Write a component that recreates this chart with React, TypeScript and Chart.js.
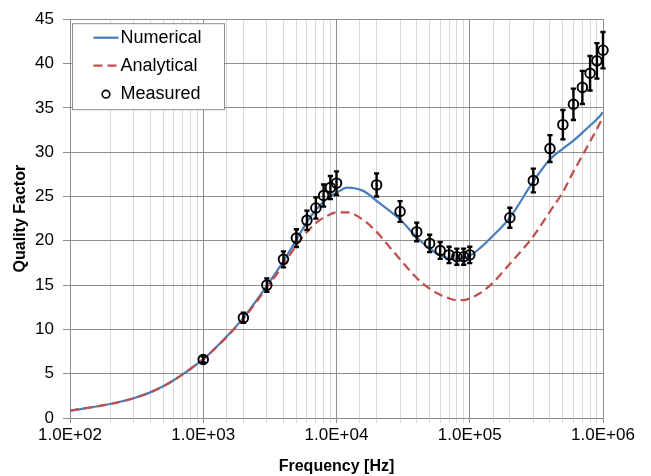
import React, { useEffect, useRef } from 'react';
import { Chart, registerables } from 'chart.js';

Chart.register(...registerables);

// Numerical (blue, solid)
const numericalFreq = [100, 200, 300, 400, 500, 600, 700, 800, 900, 1000, 1500, 2000, 3000, 4000, 5000, 6000, 7000, 8000, 9000, 10000, 12000, 16000, 20000, 30000, 40000, 50000, 60000, 70000, 80000, 90000, 100000, 120000, 150000, 200000, 300000, 400000, 500000, 600000, 700000, 800000, 900000, 1000000];
const numericalQ = [0.83, 1.58, 2.23, 2.89, 3.57, 4.26, 4.92, 5.53, 6.1, 6.62, 9.2, 11.3, 14.9, 17.7, 20.1, 22.1, 23.5, 24.4, 25.0, 25.4, 26.0, 25.6, 24.5, 22.4, 20.4, 19.1, 18.4, 18.0, 17.9, 18.1, 18.3, 19.2, 20.6, 22.6, 26.7, 29.2, 30.4, 31.3, 32.2, 33.0, 33.7, 34.5];

// Analytical (red, dashed)
const analyticalFreq = [100, 200, 300, 400, 500, 600, 700, 800, 900, 1000, 1500, 2000, 3000, 4000, 5000, 6000, 7000, 8000, 9000, 10000, 12000, 16000, 20000, 25000, 30000, 40000, 50000, 60000, 70000, 80000, 90000, 100000, 120000, 150000, 200000, 300000, 400000, 500000, 600000, 700000, 800000, 900000, 1000000];
const analyticalQ = [0.83, 1.58, 2.23, 2.89, 3.57, 4.26, 4.92, 5.53, 6.1, 6.62, 9.15, 11.2, 14.7, 17.3, 19.5, 21.0, 22.0, 22.6, 23.0, 23.2, 23.2, 22.3, 21.0, 19.3, 17.9, 15.8, 14.6, 13.9, 13.5, 13.3, 13.3, 13.5, 14.1, 15.3, 17.4, 20.5, 23.3, 25.5, 27.8, 29.6, 31.2, 32.6, 34.0];

// Measured (circles with error bars)
const measuredFreq = [1000, 2000, 3000, 4000, 5000, 6000, 7000, 8000, 9000, 10000, 20000, 30000, 40000, 50000, 60000, 70000, 80000, 90000, 100000, 200000, 300000, 400000, 500000, 600000, 700000, 800000, 900000, 1000000];
const measuredQ = [6.6, 11.3, 15.0, 17.9, 20.3, 22.3, 23.7, 25.1, 26.0, 26.5, 26.3, 23.3, 21.0, 19.7, 18.9, 18.4, 18.2, 18.2, 18.4, 22.6, 26.8, 30.4, 33.1, 35.4, 37.3, 38.9, 40.3, 41.5];
const measuredErr = [0.33, 0.57, 0.75, 0.9, 1.0, 1.1, 1.2, 1.25, 1.3, 1.33, 1.3, 1.17, 1.05, 0.98, 0.95, 0.92, 0.91, 0.91, 0.92, 1.13, 1.34, 1.52, 1.66, 1.77, 1.87, 1.95, 2.0, 2.05];

const legendLabels = ['Numerical', 'Analytical', 'Measured'];
const yTicks = { min: 0, max: 45, step: 5 };
const xRange = { min: 100, max: 1000000 };

const BLUE = '#4a7ebb';
const RED = '#c0504d';
const MAJOR = '#8e8e8e';
const MINOR = '#d9d9d9';
const FONT = "'Liberation Sans', Arial, Helvetica, sans-serif";

const isDecade = (v: number) => {
  const e = Math.log10(v);
  return Math.abs(e - Math.round(e)) < 1e-9;
};

export default function App() {
  const ref = useRef<HTMLCanvasElement>(null);

  useEffect(() => {
    document.body.style.margin = '0';
    const canvas = ref.current!;

    const errorBars = {
      id: 'errorBars',
      afterDatasetsDraw(chart: any) {
        const { ctx, scales } = chart;
        const xs = scales.x;
        const ys = scales.y;
        ctx.save();
        ctx.strokeStyle = '#000';
        ctx.lineWidth = 2.4;
        for (let i = 0; i < measuredFreq.length; i++) {
          const px = xs.getPixelForValue(measuredFreq[i]);
          const top = ys.getPixelForValue(measuredQ[i] + measuredErr[i]);
          const bot = ys.getPixelForValue(measuredQ[i] - measuredErr[i]);
          ctx.beginPath();
          ctx.moveTo(px, top);
          ctx.lineTo(px, bot);
          ctx.moveTo(px - 2.6, top);
          ctx.lineTo(px + 2.6, top);
          ctx.moveTo(px - 2.6, bot);
          ctx.lineTo(px + 2.6, bot);
          ctx.stroke();
        }
        ctx.restore();
      },
    };

    const legendBox = {
      id: 'legendBox',
      afterDraw(chart: any) {
        const { ctx, chartArea } = chart;
        const left = chartArea.left + 2.5;
        const top = chartArea.top + 4.5;
        ctx.save();
        ctx.fillStyle = '#fff';
        ctx.fillRect(left, top, 152, 86);
        ctx.strokeStyle = MAJOR;
        ctx.lineWidth = 1;
        ctx.strokeRect(left, top, 152, 86);
        const rows = [top + 14, top + 42, top + 70.5];
        ctx.strokeStyle = BLUE;
        ctx.lineWidth = 2.25;
        ctx.beginPath();
        ctx.moveTo(left + 21, rows[0]);
        ctx.lineTo(left + 46, rows[0]);
        ctx.stroke();
        ctx.strokeStyle = RED;
        ctx.setLineDash([9, 5]);
        ctx.beginPath();
        ctx.moveTo(left + 21, rows[1]);
        ctx.lineTo(left + 46, rows[1]);
        ctx.stroke();
        ctx.setLineDash([]);
        ctx.strokeStyle = '#000';
        ctx.lineWidth = 1.6;
        ctx.beginPath();
        ctx.arc(left + 33.5, rows[2], 3.8, 0, Math.PI * 2);
        ctx.stroke();
        ctx.fillStyle = '#000';
        ctx.font = `18px ${FONT}`;
        ctx.textBaseline = 'middle';
        ctx.textAlign = 'left';
        legendLabels.forEach((t, i) => ctx.fillText(t, left + 48, rows[i]));
        ctx.restore();
      },
    };

    const chart = new Chart(canvas, {
      type: 'scatter',
      data: {
        datasets: [
          {
            label: legendLabels[2],
            data: measuredFreq.map((f, i) => ({ x: f, y: measuredQ[i] })),
            showLine: false,
            pointRadius: 4.8,
            pointBorderWidth: 1.9,
            pointBorderColor: '#000',
            pointBackgroundColor: 'rgba(0,0,0,0)',
            clip: false,
            order: 0,
          },
          {
            label: legendLabels[1],
            data: analyticalFreq.map((f, i) => ({ x: f, y: analyticalQ[i] })),
            showLine: true,
            borderColor: RED,
            borderWidth: 2.25,
            borderDash: [9, 5],
            pointRadius: 0,
            cubicInterpolationMode: 'monotone',
            order: 1,
          },
          {
            label: legendLabels[0],
            data: numericalFreq.map((f, i) => ({ x: f, y: numericalQ[i] })),
            showLine: true,
            borderColor: BLUE,
            borderWidth: 2.25,
            pointRadius: 0,
            cubicInterpolationMode: 'monotone',
            order: 2,
          },
        ],
      },
      options: {
        animation: false,
        responsive: false,
        devicePixelRatio: 1,
        layout: { padding: { top: 16, right: 48, left: 0, bottom: 0 } },
        plugins: {
          legend: { display: false },
          tooltip: { enabled: false },
        },
        scales: {
          x: {
            type: 'logarithmic',
            min: xRange.min,
            max: xRange.max,
            afterFit: (s: any) => {
              s.height = 58;
            },
            grid: {
              color: (c: any) => (isDecade(c.tick.value) ? MAJOR : MINOR),
              tickColor: (c: any) => (isDecade(c.tick.value) ? MAJOR : MINOR),
              tickLength: 5,
              lineWidth: 1,
            },
            border: { color: MAJOR },
            ticks: {
              autoSkip: false,
              maxRotation: 0,
              padding: 2,
              color: '#000',
              font: { family: FONT, size: 17 },
              callback: (v: any) => {
                const n = Number(v);
                if (!isDecade(n)) return '';
                return '1.0E+' + String(Math.round(Math.log10(n))).padStart(2, '0');
              },
            },
            title: {
              display: true,
              text: 'Frequency [Hz]',
              color: '#000',
              font: { family: FONT, size: 16, weight: 'bold' },
              padding: { top: 0, bottom: 0 },
            },
          },
          y: {
            type: 'linear',
            min: yTicks.min,
            max: yTicks.max,
            afterFit: (s: any) => {
              s.width = 70;
            },
            grid: {
              color: MAJOR,
              tickColor: MAJOR,
              tickLength: 7,
              lineWidth: 1,
            },
            border: { color: MAJOR },
            ticks: {
              stepSize: yTicks.step,
              padding: 9,
              color: '#000',
              font: { family: FONT, size: 17 },
            },
            title: {
              display: true,
              text: 'Quality Factor',
              color: '#000',
              font: { family: FONT, size: 16, weight: 'bold' },
              padding: { top: 11, bottom: 0 },
            },
          },
        },
      },
      plugins: [errorBars, legendBox],
    } as any);

    return () => chart.destroy();
  }, []);

  return (
    <div style={{ width: 651, height: 476 }}>
      <canvas ref={ref} width={651} height={476} style={{ display: 'block' }} />
    </div>
  );
}
